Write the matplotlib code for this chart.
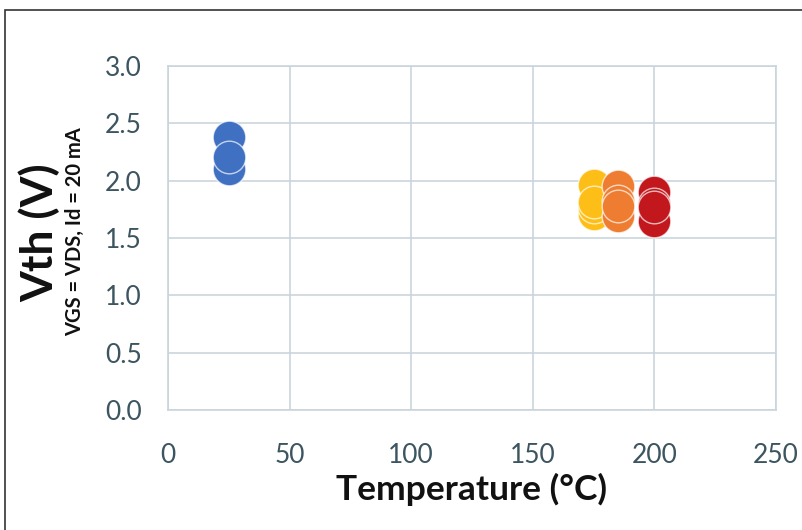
import matplotlib
matplotlib.use("Agg")
import matplotlib.pyplot as plt
from matplotlib.patches import Rectangle

temps = [25, 175, 185, 200]
colors = ["#4070C2", "#FDBF17", "#EE7D31", "#C2171D"]
vth_25 = [2.38, 2.10, 2.21]
vth_175 = [1.96, 1.71, 1.77, 1.81]
vth_185 = [1.95, 1.69, 1.82, 1.78]
vth_200 = [1.90, 1.65, 1.80, 1.77]
groups = [vth_25, vth_175, vth_185, vth_200]

xticks = [0, 50, 100, 150, 200, 250]
yticks = [0.0, 0.5, 1.0, 1.5, 2.0, 2.5, 3.0]

plt.rcParams['font.family'] = ['Lato', 'DejaVu Sans']

fig = plt.figure(figsize=(8.02, 5.30), dpi=100)
ax = fig.add_axes([168/802, 1-410/530, (776-168)/802, (410-66)/530])

for t, c, vals in zip(temps, colors, groups):
    ax.scatter([t]*len(vals), vals, s=23.5**2, color=c, edgecolors=(1, 1, 1, 0.7),
               linewidths=1.0, zorder=3)

ax.set_xlim(0, 250)
ax.set_ylim(0, 3.0)
ax.set_xticks(xticks)
ax.set_yticks(yticks)
ax.set_xticklabels([str(x) for x in xticks])
ax.set_yticklabels([f"{y:.1f}" for y in yticks])
ax.grid(True, color="#c9d5dc", linewidth=1.2)
ax.set_axisbelow(True)
for s in ax.spines.values():
    s.set_color("#c9d5dc")
    s.set_linewidth(1.2)
ax.tick_params(length=0, labelsize=19, colors="#3c5560")
ax.tick_params(axis='y', pad=19)
ax.tick_params(axis='x', pad=24)

fig.text(472/802, 1-489/530, "Temperature (°C)", fontsize=25.5, fontweight="bold",
         color="#111111", ha="center", va="center")

fig.text(39/802, 1-233/530, "Vth (V)", rotation=90, fontsize=32, fontweight="bold",
         ha="center", va="center", color="#111111")
fig.text(75/802, 1-232/530, "VGS = VDS, Id = 20 mA", rotation=90, fontsize=14.5,
         fontweight="bold", ha="center", va="center", color="#111111")

fig.patches.append(Rectangle((5/802, -0.1), 1.2, 1-10/530 + 0.1, transform=fig.transFigure,
                             fill=False, edgecolor="#333333", linewidth=1.2))

fig.savefig("out.png", dpi=100)
